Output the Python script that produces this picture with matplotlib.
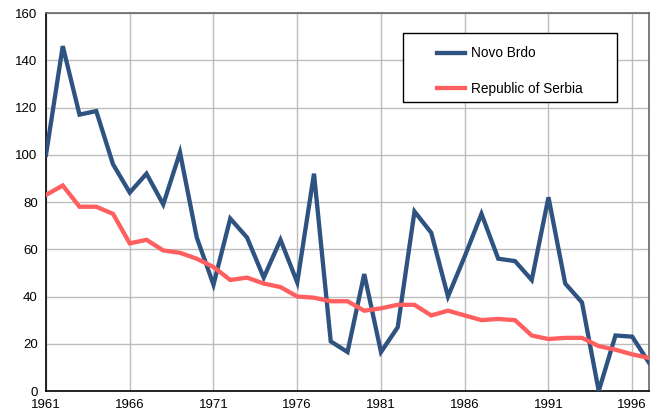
import matplotlib
matplotlib.use("Agg")
import matplotlib.pyplot as plt
from matplotlib.patches import Rectangle
from matplotlib.ticker import MultipleLocator

plt.rcParams['font.family'] = ['Liberation Sans', 'DejaVu Sans']

years = list(range(1961, 1998))
novo_brdo = [100, 146, 117, 118.5, 96, 84, 92, 79, 101, 65,
             45, 73, 65, 48, 64, 46, 92, 21, 16.5, 49.5,
             16.5, 27, 76, 67, 40, 57, 75, 56, 55, 47,
             82, 45.5, 37.5, 0, 23.5, 23, 12]
serbia = [83, 87, 78, 78, 75, 62.5, 64, 59.5, 58.5, 56,
          52.5, 47, 48, 45.5, 44, 40, 39.5, 38, 38, 34,
          35, 36.5, 36.5, 32, 34, 32, 30, 30.5, 30, 23.5,
          22, 22.5, 22.5, 19, 17.5, 15.5, 14]
x_ticks = [1961, 1966, 1971, 1976, 1981, 1986, 1991, 1996]

fig = plt.figure(figsize=(6.6, 4.2), dpi=100)
ax = fig.add_axes([0.0697, 0.069, 0.9136, 0.9])

ax.plot(years, novo_brdo, color='#2f5381', lw=3.1, label='Novo Brdo',
        solid_joinstyle='miter', zorder=3)
ax.plot(years, serbia, color='#ff5f5f', lw=3.1, label='Republic of Serbia',
        solid_joinstyle='miter', zorder=3)

ax.set_xlim(1961, 1997)
ax.set_ylim(0, 160)
ax.set_xticks(x_ticks)
ax.yaxis.set_major_locator(MultipleLocator(20))
ax.grid(True, color='#bdbdbd', lw=1)
ax.set_axisbelow(True)
ax.tick_params(length=0, labelsize=9.5, pad=6)

for s in ['top', 'right']:
    ax.spines[s].set_color('#666666')
    ax.spines[s].set_linewidth(1.2)
for s in ['left', 'bottom']:
    ax.spines[s].set_color('black')
    ax.spines[s].set_linewidth(1.2)

# legend box drawn separately so the entries can sit inset like the original
ax.add_patch(Rectangle((0.592, 0.765), 0.355, 0.182, transform=ax.transAxes,
                       facecolor='white', edgecolor='black', lw=1.0, zorder=4))
leg = ax.legend(loc='upper left', bbox_to_anchor=(0.648, 0.912),
                fontsize=9.8, frameon=False, handlelength=2.1,
                handletextpad=0.45, labelspacing=1.6, borderpad=0,
                borderaxespad=0)
leg.set_zorder(5)

fig.savefig('out.png', dpi=100)
